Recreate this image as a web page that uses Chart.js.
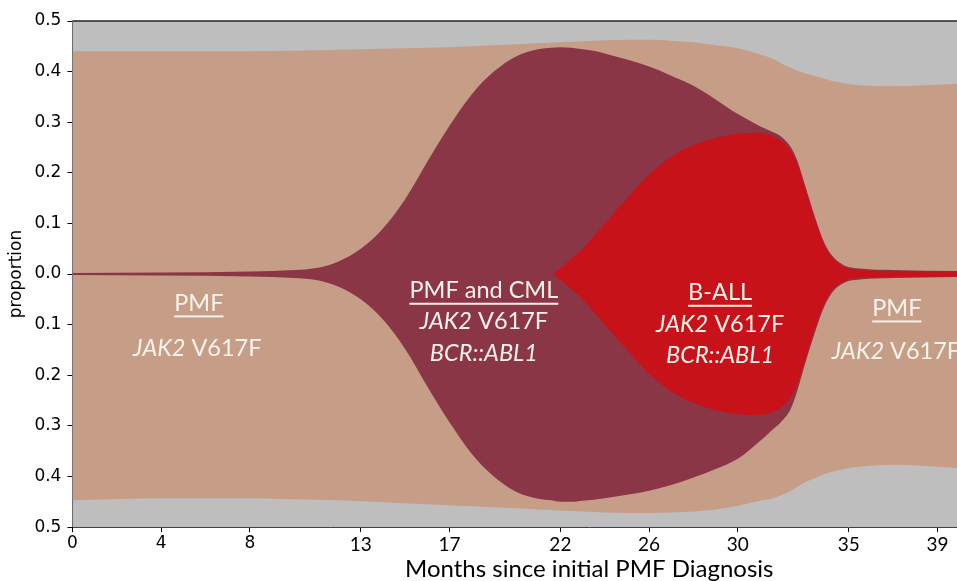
<!DOCTYPE html>
<html>
<head>
<meta charset="utf-8">
<script src="https://cdn.jsdelivr.net/npm/chart.js@4.4.1/dist/chart.umd.min.js"></script>
<style>
  html, body { margin: 0; padding: 0; background: #fff; overflow: hidden; }
  #wrap { width: 1110px; height: 581px; }
</style>
</head>
<body>
<div id="wrap"><canvas id="fish" width="1110" height="581"></canvas></div>
<script>
// months since PMF diagnosis (sample points of the fish plot)
const months = [0, 4, 8, 10, 11, 12, 13, 14, 15, 16, 17, 18, 19, 20, 21, 21.6, 22, 22.5, 23, 23.5, 24,
  25, 26, 27, 28, 29, 30, 31, 31.5, 32, 32.4, 32.7, 33, 33.5, 33.9, 34.3, 34.8, 35.5, 37, 39.9];

// PMF clone band (upper / lower edge)
const pmfTop = [0.44, 0.44, 0.44, 0.441, 0.442, 0.443, 0.444, 0.445, 0.446, 0.447, 0.448, 0.45, 0.452, 0.454,
  0.456, 0.457, 0.458, 0.459, 0.46, 0.461, 0.462, 0.463, 0.463, 0.461, 0.458, 0.452, 0.446, 0.434, 0.427,
  0.415, 0.407, 0.401, 0.397, 0.391, 0.386, 0.381, 0.377, 0.373, 0.371, 0.376];
const pmfBottom = [-0.447, -0.443, -0.443, -0.445, -0.446, -0.447, -0.449, -0.451, -0.453, -0.455, -0.457,
  -0.459, -0.461, -0.463, -0.465, -0.466, -0.467, -0.468, -0.469, -0.47, -0.471, -0.472, -0.472, -0.471,
  -0.469, -0.465, -0.458, -0.448, -0.444, -0.436, -0.428, -0.42, -0.412, -0.403, -0.395, -0.39, -0.385,
  -0.381, -0.377, -0.383];

// PMF and CML clone
const cmlTop = [0.002, 0.003, 0.005, 0.008, 0.012, 0.025, 0.05, 0.09, 0.148, 0.222, 0.293, 0.355, 0.4,
  0.43, 0.444, 0.447, 0.448, 0.447, 0.444, 0.441, 0.436, 0.424, 0.41, 0.392, 0.372, 0.345, 0.316, 0.292,
  0.282, 0.27, 0.25, 0.222, 0.18, 0.11, 0.062, 0.034, 0.017, 0.011, 0.008, 0.006];
const cmlBottom = [-0.002, -0.003, -0.005, -0.008, -0.012, -0.025, -0.05, -0.09, -0.148, -0.222, -0.293,
  -0.355, -0.4, -0.43, -0.444, -0.447, -0.45, -0.45, -0.448, -0.446, -0.443, -0.436, -0.428, -0.417,
  -0.402, -0.385, -0.365, -0.33, -0.31, -0.29, -0.265, -0.228, -0.182, -0.112, -0.064, -0.034, -0.017,
  -0.011, -0.008, -0.006];

// B-ALL clone (symmetric around 0)
const ball = [0, 0, 0, 0, 0, 0, 0, 0, 0, 0, 0, 0, 0, 0, 0, 0, 0.012, 0.03, 0.05, 0.075, 0.1, 0.15, 0.197,
  0.232, 0.255, 0.269, 0.277, 0.279, 0.274, 0.262, 0.243, 0.215, 0.175, 0.105, 0.058, 0.03, 0.014, 0.008,
  0.006, 0.005];

const xTicks = [0, 4, 8, 13, 17, 22, 26, 30, 35, 39];
const yTicks = [-0.5, -0.4, -0.3, -0.2, -0.1, 0, 0.1, 0.2, 0.3, 0.4, 0.5];

const pts = arr => arr.map((v, i) => ({ x: months[i], y: v }));
const neg = arr => arr.map(v => -v);

const GRAY = '#bebebe';
const TAN = '#c69d87';
const MAROON = '#8b3646';
const RED = '#c8121a';

const band = (label, data, color, fill) => ({
  label: label,
  data: pts(data),
  borderWidth: 0,
  pointRadius: 0,
  cubicInterpolationMode: 'monotone',
  backgroundColor: color,
  borderColor: color,
  fill: fill
});

// text blocks on the plot: x in months, y in proportion
const notes = [
  { x: 5.7, y: -0.058, parts: [['PMF', false]], underline: true },
  { x: 5.63, y: -0.147, parts: [['JAK2', true], [' V617F', false]] },
  { x: 18.55, y: -0.033, parts: [['PMF and CML', false]], underline: true },
  { x: 18.55, y: -0.094, parts: [['JAK2', true], [' V617F', false]] },
  { x: 18.55, y: -0.156, parts: [['BCR::ABL1', true]] },
  { x: 29.2, y: -0.037, parts: [['B-ALL', false]], underline: true },
  { x: 29.2, y: -0.1, parts: [['JAK2', true], [' V617F', false]] },
  { x: 29.2, y: -0.16, parts: [['BCR::ABL1', true]] },
  { x: 37.17, y: -0.068, parts: [['PMF', false]], underline: true },
  { x: 37.13, y: -0.152, parts: [['JAK2', true], [' V617F', false]] }
];

const bgPlugin = {
  id: 'bg',
  beforeDatasetsDraw(chart) {
    const a = chart.chartArea;
    const ctx = chart.ctx;
    ctx.save();
    ctx.fillStyle = GRAY;
    ctx.fillRect(a.left, a.top, a.right - a.left, a.bottom - a.top);
    ctx.restore();
  },
  afterDraw(chart) {
    const a = chart.chartArea;
    const ctx = chart.ctx;
    ctx.save();
    ctx.strokeStyle = '#222';
    ctx.lineWidth = 1.5;
    ctx.beginPath();
    ctx.moveTo(a.left, a.top);
    ctx.lineTo(a.right, a.top);
    ctx.stroke();
    ctx.restore();
  }
};

const notePlugin = {
  id: 'notes',
  afterDatasetsDraw(chart) {
    const ctx = chart.ctx;
    const xs = chart.scales.x, ys = chart.scales.y;
    ctx.save();
    ctx.fillStyle = '#fbf3ec';
    ctx.textBaseline = 'middle';
    ctx.textAlign = 'left';
    notes.forEach(n => {
      const fonts = n.parts.map(p => (p[1] ? 'italic ' : '') + '23.5px Lato');
      let total = 0;
      const widths = n.parts.map((p, i) => { ctx.font = fonts[i]; const w = ctx.measureText(p[0]).width; total += w; return w; });
      let px = xs.getPixelForValue(n.x) - total / 2;
      const py = ys.getPixelForValue(n.y);
      const start = px;
      n.parts.forEach((p, i) => {
        ctx.font = fonts[i];
        ctx.fillText(p[0], px, py);
        px += widths[i];
      });
      if (n.underline) {
        ctx.fillRect(start, py + 12, total, 2);
      }
    });
    ctx.restore();
  }
};

new Chart(document.getElementById('fish').getContext('2d'), {
  type: 'line',
  data: {
    datasets: [
      band('B-ALL top', ball, RED, '+1'),
      band('B-ALL bottom', neg(ball), RED, false),
      band('CML top', cmlTop, MAROON, '+1'),
      band('CML bottom', cmlBottom, MAROON, false),
      band('PMF top', pmfTop, TAN, '+1'),
      band('PMF bottom', pmfBottom, TAN, false)
    ]
  },
  options: {
    responsive: false,
    animation: false,
    layout: { padding: { top: 21, right: 4, left: 6, bottom: 0 } },
    plugins: {
      legend: { display: false },
      tooltip: { enabled: false }
    },
    scales: {
      x: {
        type: 'linear',
        min: 0,
        max: 46.6,
        afterBuildTicks: s => { s.ticks = xTicks.map(v => ({ value: v })); },
        grid: { drawOnChartArea: false, tickLength: 5, color: '#000' },
        border: { display: true, color: '#333', width: 1 },
        ticks: {
          color: '#000',
          padding: 2,
          maxRotation: 0,
          font: c => c.index < 3 ? { family: 'DejaVu Sans', size: 17, lineHeight: 1.1 } : { family: 'Lato', size: 19, lineHeight: 1.1 }
        },
        title: {
          display: true,
          text: 'Months since initial PMF Diagnosis',
          color: '#000',
          font: { family: 'Lato', size: 24, lineHeight: 1 },
          padding: { top: 0, bottom: 0 }
        }
      },
      y: {
        min: -0.5,
        max: 0.5,
        afterBuildTicks: s => { s.ticks = yTicks.map(v => ({ value: v })); },
        grid: { drawOnChartArea: false, tickLength: 5, color: '#000' },
        border: { display: true, color: '#000', width: 1 },
        ticks: {
          color: '#000',
          padding: 6,
          font: { family: 'DejaVu Sans', size: 17 },
          callback: v => Math.abs(v).toFixed(1)
        },
        title: {
          display: true,
          text: 'proportion',
          color: '#000',
          font: { family: 'DejaVu Sans', size: 17 },
          padding: { top: 0, bottom: 2 }
        }
      }
    }
  },
  plugins: [bgPlugin, notePlugin]
});
</script>
</body>
</html>
